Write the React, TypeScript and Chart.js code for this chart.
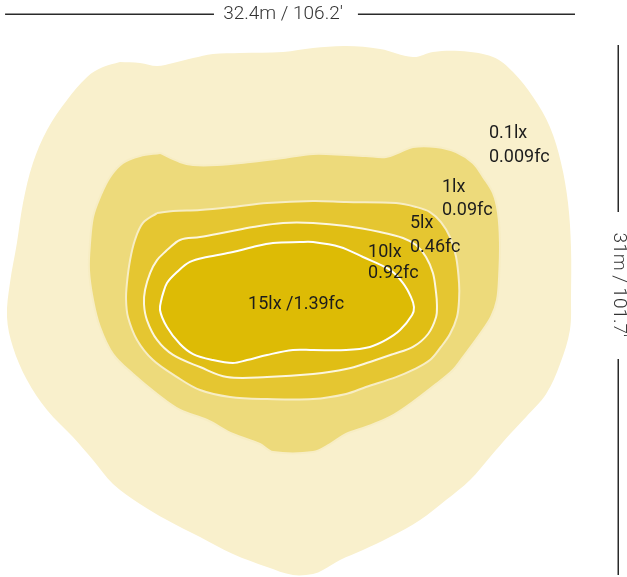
import React, { useEffect, useRef } from "react";
import { Chart, registerables } from "chart.js";

Chart.register(...registerables);

// Isolux contour levels (outer to inner)
const levels = ["0.1lx", "1lx", "5lx", "10lx", "15lx"];
const fcValues = ["0.009fc", "0.09fc", "0.46fc", "0.92fc", "1.39fc"];
const fillColors = ["#F9F0CC", "#EDDA7B", "#E5C631", "#E0BE14", "#DDBB05"];
const strokeColors = ["rgba(0,0,0,0)", "#F7EDC4", "#F7EDC4", "#FCF6DE", "#FFFFFF"];
const strokeWidths = [0, 2, 2, 2, 2];

// Contour outlines in metres (x: 0..32.4 across, y: 0..31 bottom to top)
const contour01: [number, number][] = [
  [6.49, 30.12], [7.64, 30.06], [8.62, 29.88], [9.54, 30.06], [10.69, 30.35], [11.83, 30.59],
  [13.39, 30.65], [15.86, 30.71], [17.58, 30.94], [19.48, 31.06], [21.43, 30.88], [23.32, 30.41],
  [24.47, 30.71], [26.02, 30.76], [27.92, 30.41], [29.07, 29.53], [30.22, 28.06], [31.19, 26.3],
  [31.83, 24.19], [32.23, 21.84], [32.4, 19.26], [32.4, 16.32], [32.34, 14.38], [31.77, 12.39],
  [30.97, 10.63], [29.82, 9.28], [28.9, 8.28], [27.75, 6.93], [26.6, 5.58], [25.22, 4.4],
  [23.73, 3.23], [22.0, 2.23], [20.45, 1.47], [19.13, 0.88], [18.15, 0.29], [17.58, 0.06],
  [16.43, 0.0], [14.94, 0.47], [12.98, 1.23], [11.09, 2.23], [9.19, 3.23], [7.64, 4.17],
  [6.09, 5.34], [4.94, 6.75], [3.79, 8.1], [2.3, 9.69], [1.15, 11.45], [0.34, 13.39],
  [0.0, 15.15], [0.17, 17.14], [0.57, 19.49], [0.92, 21.84], [1.49, 24.19], [2.3, 26.13],
  [3.45, 27.89], [4.6, 29.24], [5.52, 29.82], [6.49, 30.12],
];

const contour1: [number, number][] = [
  [8.79, 24.78], [9.94, 24.25], [10.69, 24.07], [12.06, 24.07], [13.96, 24.25], [15.86, 24.48],
  [17.58, 24.72], [19.48, 24.66], [20.62, 24.6], [21.77, 24.54], [22.58, 24.83], [23.32, 25.13],
  [24.65, 25.13], [25.8, 24.83], [26.77, 24.19], [27.35, 23.37], [27.92, 22.43], [28.21, 21.25],
  [28.32, 19.49], [28.27, 17.5], [28.15, 16.15], [27.81, 15.15], [27.17, 14.15], [26.2, 12.8],
  [25.62, 12.04], [24.65, 11.21], [23.15, 10.04], [22.0, 9.28], [20.62, 8.69], [19.48, 8.28],
  [18.56, 7.69], [17.58, 7.22], [15.28, 7.22], [14.53, 7.69], [12.98, 8.28], [11.49, 9.1],
  [9.94, 9.69], [8.62, 10.63], [7.24, 11.8], [6.09, 12.97], [5.34, 14.56], [4.94, 16.15],
  [4.71, 17.91], [4.77, 19.49], [4.94, 21.02], [5.34, 22.19], [5.92, 23.37], [6.66, 24.19],
  [7.64, 24.6], [8.79, 24.78],
];

const contour5: [number, number][] = [
  [8.62, 21.25], [9.54, 21.37], [11.09, 21.43], [12.98, 21.61], [14.94, 21.84], [17.58, 21.96],
  [19.48, 21.9], [22.35, 21.84], [23.5, 21.61], [24.3, 21.31], [24.93, 20.72], [25.45, 19.84],
  [25.8, 18.67], [25.97, 17.14], [25.97, 16.15], [25.85, 15.15], [25.45, 14.15], [24.93, 13.39],
  [24.3, 12.62], [23.32, 12.04], [22.35, 11.62], [20.62, 11.04], [19.48, 10.63], [17.58, 10.33],
  [14.94, 10.33], [12.81, 10.45], [11.09, 10.86], [9.77, 11.62], [8.39, 12.62], [7.47, 13.8],
  [6.95, 15.15], [6.84, 16.15], [6.89, 17.14], [7.07, 18.49], [7.35, 19.67], [7.81, 20.67],
  [8.62, 21.25],
];

const contour10: [number, number][] = [
  [9.19, 19.08], [9.94, 19.67], [11.09, 19.84], [12.64, 20.14], [14.13, 20.43], [15.86, 20.67],
  [17.58, 20.67], [19.48, 20.49], [21.43, 20.14], [22.75, 19.79], [23.5, 19.37], [24.07, 18.67],
  [24.47, 17.73], [24.65, 16.56], [24.7, 15.85], [24.65, 15.15], [24.19, 14.15], [23.32, 13.39],
  [22.18, 12.97], [20.85, 12.51], [19.48, 12.09], [17.58, 11.8], [14.94, 11.62], [12.64, 11.62],
  [11.09, 12.21], [9.54, 12.92], [8.62, 13.8], [8.04, 14.97], [7.87, 15.91], [7.93, 16.73],
  [8.22, 17.73], [8.62, 18.49], [9.19, 19.08],
];

const contour15: [number, number][] = [
  [8.9, 16.32], [9.19, 17.14], [9.77, 17.79], [10.51, 18.38], [11.49, 18.67], [12.98, 18.96],
  [14.13, 19.26], [15.28, 19.49], [16.83, 19.55], [17.58, 19.55], [19.13, 19.26], [20.45, 18.67],
  [22.0, 17.91], [22.75, 17.14], [23.21, 16.32], [23.38, 15.73], [23.27, 15.26], [22.58, 14.38],
  [21.77, 13.8], [20.85, 13.39], [19.48, 13.21], [17.58, 13.21], [16.43, 13.21], [14.94, 12.92],
  [13.79, 12.62], [12.98, 12.45], [11.83, 12.62], [10.69, 12.97], [9.94, 13.56], [9.19, 14.56],
  [8.79, 15.56], [8.9, 16.32],
];

const contours = [contour01, contour1, contour5, contour10, contour15];

// Label anchor positions (metres): left edge x, baseline of line 1 and line 2
const labelX = [27.69, 24.99, 23.15, 20.74, 13.85];
const labelY1 = [25.66, 22.49, 20.37, 18.67, 15.62];
const labelY2 = [24.25, 21.14, 18.96, 17.44, null];

// Dimension annotations
const widthLabel = "32.4m / 106.2'";
const heightLabel = "31m / 101.7'";
const topLineY = 32.94;
const topLineSegments: [number, number][] = [[-0.11, 11.89], [20.16, 32.63]];
const topTextX = 15.86;
const rightLineX = 35.1;
const rightLineSegments: [number, number][] = [[31.12, 21.31], [12.68, 0.0]];
const rightTextY = 17.03;

// Axis ranges (metres)
const xMin = -0.402;
const xMax = 35.618;
const yMin = -0.117;
const yMax = 33.76;

const overlayPlugin = {
  id: "isoluxOverlay",
  afterDatasetsDraw(chart: any) {
    const { ctx } = chart;
    const xs = chart.scales.x;
    const ys = chart.scales.y;
    ctx.save();

    // contour labels
    ctx.fillStyle = "#1c1c1c";
    ctx.font = "18px Roboto";
    ctx.textAlign = "left";
    ctx.textBaseline = "alphabetic";
    levels.forEach((lv, i) => {
      const px = xs.getPixelForValue(labelX[i]);
      const y2 = labelY2[i];
      if (y2 === null) {
        ctx.fillText(`${lv} /${fcValues[i]}`, px, ys.getPixelForValue(labelY1[i]));
      } else {
        ctx.fillText(lv, px, ys.getPixelForValue(labelY1[i]));
        ctx.fillText(fcValues[i], px, ys.getPixelForValue(y2));
      }
    });

    // dimension lines
    ctx.strokeStyle = "#2a2a2a";
    ctx.lineWidth = 1.5;
    const ty = Math.round(ys.getPixelForValue(topLineY)) + 0.25;
    topLineSegments.forEach(([a, b]) => {
      ctx.beginPath();
      ctx.moveTo(xs.getPixelForValue(a), ty);
      ctx.lineTo(xs.getPixelForValue(b), ty);
      ctx.stroke();
    });
    const rx = Math.round(xs.getPixelForValue(rightLineX)) + 0.25;
    rightLineSegments.forEach(([a, b]) => {
      ctx.beginPath();
      ctx.moveTo(rx, ys.getPixelForValue(a));
      ctx.lineTo(rx, ys.getPixelForValue(b));
      ctx.stroke();
    });

    ctx.fillStyle = "#333333";
    ctx.font = "300 19px Roboto";
    ctx.textAlign = "center";
    ctx.textBaseline = "middle";
    ctx.fillText(widthLabel, xs.getPixelForValue(topTextX), ty);

    ctx.translate(rx, ys.getPixelForValue(rightTextY));
    ctx.rotate(Math.PI / 2);
    ctx.fillText(heightLabel, 0, 0);

    ctx.restore();
  },
};

export default function App() {
  const canvasRef = useRef<HTMLCanvasElement | null>(null);

  useEffect(() => {
    if (!canvasRef.current) return;
    const datasets = contours.map((pts, i) => ({
      label: levels[i],
      data: pts.map(([x, y]) => ({ x, y })),
      backgroundColor: fillColors[i],
      borderColor: strokeColors[i],
      borderWidth: strokeWidths[i],
      fill: "shape",
      tension: 0.35,
      pointRadius: 0,
      pointHoverRadius: 0,
      order: levels.length - i,
    }));

    const chart = new Chart(canvasRef.current, {
      type: "line",
      data: { datasets },
      options: {
        responsive: false,
        animation: false,
        events: [],
        layout: { padding: 0 },
        plugins: {
          legend: { display: false },
          tooltip: { enabled: false },
          title: { display: false },
        },
        scales: {
          x: { type: "linear", min: xMin, max: xMax, display: false },
          y: { type: "linear", min: yMin, max: yMax, display: false },
        },
      },
      plugins: [overlayPlugin],
    } as any);

    return () => chart.destroy();
  }, []);

  return (
    <div style={{ position: "absolute", left: 0, top: 0, width: 627, height: 577, background: "#ffffff" }}>
      <canvas ref={canvasRef} width={627} height={577} style={{ display: "block" }} />
    </div>
  );
}
